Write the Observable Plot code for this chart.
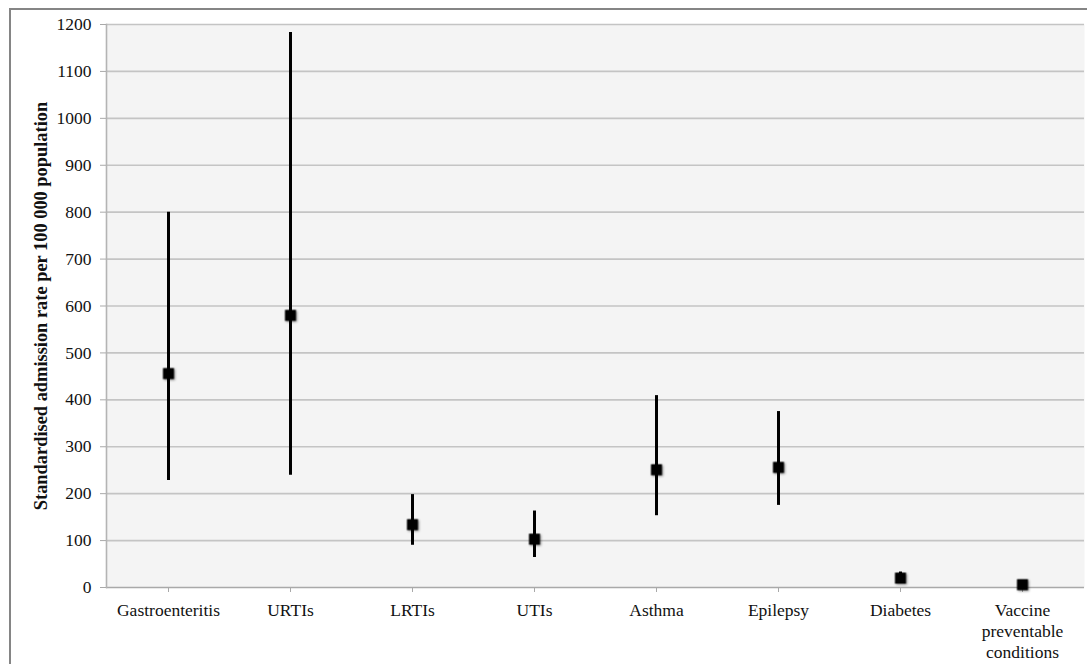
<!DOCTYPE html>
<html>
<head>
<meta charset="utf-8">
<script src="https://cdn.jsdelivr.net/npm/d3@7"></script>
<script src="https://cdn.jsdelivr.net/npm/@observablehq/plot@0.6"></script>
<style>
  html, body { margin: 0; padding: 0; background: #fff; overflow: hidden; width: 1087px; height: 664px; }
  #frame { position: absolute; left: 9px; top: 8px; width: 1200px; height: 800px; border: 2px solid #858585; box-sizing: border-box; }
  #chart { position: absolute; left: 0; top: 0; }
</style>
</head>
<body>
<div id="frame"></div>
<div id="chart"></div>
<script>
const categories = ["Gastroenteritis", "URTIs", "LRTIs", "UTIs", "Asthma", "Epilepsy", "Diabetes", "Vaccine preventable conditions"];
const categoryLabels = ["Gastroenteritis", "URTIs", "LRTIs", "UTIs", "Asthma", "Epilepsy", "Diabetes", "Vaccine\npreventable\nconditions"];
const rate  = [456, 580, 134, 103, 251, 256, 20, 6];
const lower = [228, 239,  90,  64, 153, 175, 11, 2];
const upper = [800, 1183, 198, 163, 409, 375, 33, 10];
const yTicks = [0, 100, 200, 300, 400, 500, 600, 700, 800, 900, 1000, 1100, 1200];
const yTitle = "Standardised admission rate per 100 000 population";

const rows = categories.map((c, i) => ({cat: c, rate: rate[i], lower: lower[i], upper: upper[i]}));
const labelOf = new Map(categories.map((c, i) => [c, categoryLabels[i]]));

const plot = Plot.plot({
  width: 1087,
  height: 664,
  marginLeft: 106,
  marginRight: 3,
  marginTop: 24,
  marginBottom: 77,
  style: {fontFamily: "'Liberation Serif', 'Times New Roman', serif", fontSize: "17.5px", color: "#111", background: "transparent"},
  x: {type: "band", domain: categories, padding: 0, label: null},
  y: {domain: [0, 1200], label: null},
  marks: [
    Plot.frame({fill: "#f4f4f4", stroke: null}),
    Plot.gridY(yTicks.filter(d => d > 0), {stroke: "#c4c4c4", strokeOpacity: 1, strokeWidth: 1.6}),
    Plot.ruleY([0], {stroke: "#a9a9a9", strokeWidth: 1.6}),
    Plot.frame({anchor: "left", stroke: "#b4b4b4", strokeWidth: 1.6}),
    Plot.axisY({ticks: yTicks, tickSize: 6, tickPadding: 9, stroke: "#a9a9a9", fill: "#111",
      tickFormat: d => String(d),
      label: yTitle, labelAnchor: "center", labelArrow: "none", labelOffset: 73}),
    Plot.axisX({tickSize: 5, tickPadding: 8, stroke: "#a9a9a9", fill: "#111", lineHeight: 1.22,
      tickFormat: d => labelOf.get(d), label: null}),
    Plot.ruleX(rows, {x: "cat", y1: "lower", y2: "upper", stroke: "#000", strokeWidth: 3}),
    Plot.dot(rows, {x: "cat", y: "rate", symbol: "square", r: 6.2, fill: "#000", stroke: null})
  ]
});

const svg = d3.select(plot);
svg.select('g[aria-label="y-axis label"]').attr("font-weight", "bold").attr("font-size", "18.4px");
svg.select('g[aria-label="dot"]').style("filter", "drop-shadow(1px 1px 1.2px rgba(0,0,0,0.45))");
document.getElementById("chart").appendChild(plot);
</script>
</body>
</html>
